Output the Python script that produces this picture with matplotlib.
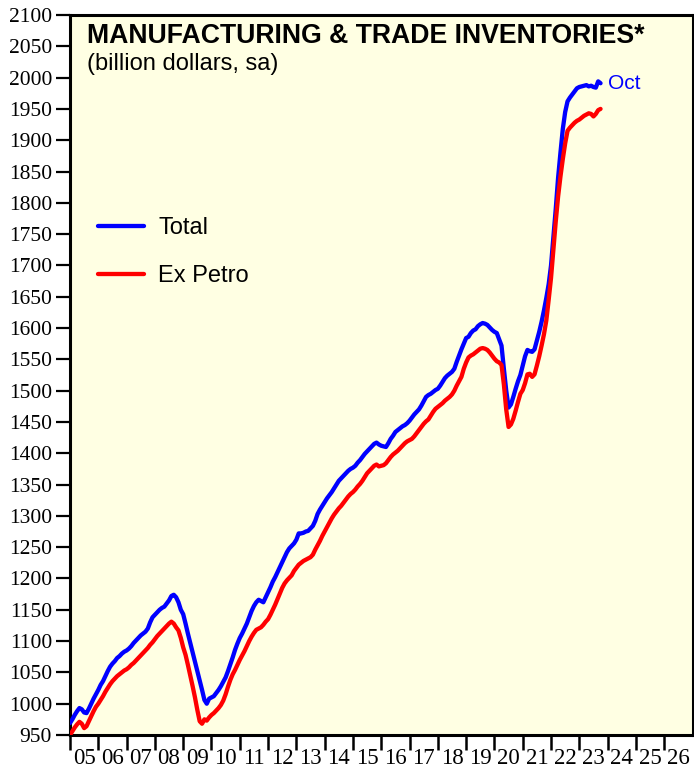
import numpy as np
import matplotlib
matplotlib.use("Agg")
import matplotlib.pyplot as plt

# ---------------- data (monthly, Jan 2005 - Oct 2023) ----------------
start_year = 2005
total = [
    969, 975, 982, 988, 993, 991, 986, 985, 992, 1000, 1008, 1015,
    1022, 1030, 1036, 1044, 1052, 1059, 1064, 1068, 1073, 1076, 1080, 1083,
    1085, 1088, 1092, 1097, 1101, 1105, 1109, 1112, 1115, 1120, 1130, 1138,
    1142, 1146, 1150, 1153, 1155, 1160, 1165, 1172, 1174, 1170, 1162, 1150,
    1143, 1128, 1112, 1097, 1082, 1067, 1052, 1037, 1022, 1006, 1000, 1008,
    1010, 1012, 1017, 1022, 1028, 1035, 1042, 1052, 1063, 1074, 1086, 1096,
    1105, 1112, 1120, 1128, 1138, 1148, 1156, 1162, 1166, 1164, 1162, 1170,
    1178, 1186, 1195, 1202, 1210, 1218, 1226, 1234, 1242, 1248, 1252, 1256,
    1262, 1272, 1272, 1273, 1275, 1276, 1280, 1284, 1292, 1303, 1310, 1316,
    1322, 1328, 1333, 1338, 1344, 1350, 1356, 1360, 1364, 1368, 1372, 1375,
    1377, 1380, 1385, 1389, 1394, 1399, 1403, 1407, 1411, 1415, 1417, 1414,
    1412, 1411, 1410, 1416, 1423, 1428, 1434, 1437, 1440, 1443, 1445, 1448,
    1452, 1457, 1462, 1466, 1470, 1476, 1483, 1490, 1493, 1495, 1498, 1501,
    1503, 1508, 1514, 1520, 1524, 1527, 1530, 1535, 1546, 1556, 1566, 1575,
    1584, 1586, 1592, 1596, 1598, 1603, 1606, 1608, 1607, 1605, 1601, 1597,
    1594, 1592, 1582, 1572, 1535, 1500, 1473, 1478, 1490, 1503, 1515, 1525,
    1540, 1555, 1565, 1563, 1562, 1566, 1580, 1594, 1610, 1628, 1648, 1670,
    1700, 1745, 1790, 1840, 1880, 1918, 1945, 1962, 1968, 1973, 1978, 1983,
    1985, 1986, 1987, 1988, 1986, 1987, 1985, 1984, 1994, 1991,
]
ex_petro = [
    950, 956, 962, 967, 971, 968, 961, 964, 972, 980, 988, 995,
    1000, 1006, 1012, 1019, 1025, 1031, 1036, 1040, 1044, 1047, 1050, 1053,
    1055, 1058, 1062, 1065, 1069, 1073, 1077, 1081, 1085, 1089, 1094, 1098,
    1103, 1108, 1112, 1116, 1120, 1124, 1128, 1131, 1128, 1122, 1117, 1105,
    1090, 1078, 1062, 1045, 1028, 1010, 990, 972, 968, 975, 973, 978,
    982, 985, 989, 993, 998, 1005, 1015, 1027, 1038, 1047, 1054, 1062,
    1070, 1077, 1084, 1092, 1100, 1107, 1113, 1118, 1120, 1122, 1126, 1131,
    1135, 1142, 1150, 1158, 1167, 1176, 1185, 1192, 1197, 1201, 1205, 1212,
    1217, 1222, 1225, 1228, 1230, 1232, 1234, 1238, 1246, 1253, 1260, 1268,
    1275, 1282, 1289, 1296, 1302, 1307, 1312, 1316, 1321, 1326, 1331, 1335,
    1338, 1342, 1347, 1351, 1356, 1362, 1368, 1372, 1376, 1380, 1382, 1379,
    1380, 1381, 1384, 1389, 1394, 1398, 1401, 1404, 1408, 1412, 1416, 1419,
    1421, 1423, 1427, 1432, 1437, 1442, 1447, 1451, 1454, 1460, 1466, 1471,
    1474, 1477, 1480, 1484, 1487, 1490, 1494, 1500, 1508, 1515, 1522, 1535,
    1545, 1553, 1556, 1558, 1561, 1564, 1567, 1568, 1567, 1565, 1561, 1556,
    1551, 1547, 1545, 1541, 1510, 1470, 1442, 1446, 1455, 1468, 1482, 1495,
    1501, 1512, 1526, 1527, 1522, 1526, 1540, 1555, 1572, 1590, 1612, 1645,
    1680, 1725, 1770, 1810, 1842, 1870, 1895, 1915, 1920, 1924, 1928, 1931,
    1933, 1936, 1939, 1941, 1943, 1942, 1938, 1942, 1948, 1950,
]
year_labels = ["05", "06", "07", "08", "09", "10", "11", "12", "13", "14", "15",
               "16", "17", "18", "19", "20", "21", "22", "23", "24", "25", "26"]
y_ticks = list(range(950, 2101, 50))
series_names = ["Total", "Ex Petro"]
last_label = "Oct"
title = "MANUFACTURING & TRADE INVENTORIES*"
subtitle = "(billion dollars, sa)"

# ---------------- figure ----------------
W, H = 694, 769
fig = plt.figure(figsize=(W / 100, H / 100), dpi=100)
fig.patch.set_facecolor("white")

L, R, T, B = 70, 692.5, 15, 735
ax = fig.add_axes([L / W, 1 - B / H, (R - L) / W, (B - T) / H])
ax.set_facecolor("#FFFFE3")

x = start_year + np.arange(len(total)) / 12.0
ax.plot(x, total, color="#0000FF", lw=3.1, solid_capstyle="round",
        solid_joinstyle="round", label=series_names[0], zorder=3)
ax.plot(x, ex_petro, color="#FF0000", lw=3.1, solid_capstyle="round",
        solid_joinstyle="round", label=series_names[1], zorder=3)

ax.set_xlim(2005, 2027)
ax.set_ylim(950, 2100)

serif = ["Liberation Serif", "DejaVu Serif"]
sans = ["Liberation Sans", "DejaVu Sans"]

ax.set_yticks(y_ticks)
ax.set_yticklabels([str(v) for v in y_ticks], fontfamily=serif, fontsize=15.5)
ax.tick_params(axis="y", direction="out", length=10, width=1.6, pad=3,
               colors="black")

years = np.arange(2005, 2027)
ax.set_xticks(years)
ax.set_xticklabels([""] * len(years))
ax.set_xticks(years + 0.5, minor=True)
ax.set_xticklabels(year_labels, minor=True, fontfamily=serif, fontsize=16.5)
ax.tick_params(axis="x", which="major", direction="out", length=11, width=1.8)
ax.tick_params(axis="x", which="minor", length=0, pad=9.5)
for lab in ax.get_xticklabels(minor=True):
    lab.set_horizontalalignment("center")

for s in ax.spines.values():
    s.set_linewidth(2.2)
    s.set_color("black")


def fx(px):
    return px / W


def fy(py):
    return 1 - py / H


fig.text(fx(87), fy(43), title, fontfamily=sans, fontweight="bold",
         fontsize=19.2, va="baseline", ha="left")
fig.text(fx(87), fy(70), subtitle, fontfamily=sans, fontsize=17,
         va="baseline", ha="left")

# legend
leg = ax.legend(loc="upper left", bbox_to_anchor=(fx(98), fy(217)),
                bbox_transform=fig.transFigure, frameon=False,
                prop={"family": sans, "size": 17}, handlelength=1.95,
                handletextpad=0.6, labelspacing=1.1, borderpad=0,
                borderaxespad=0)

# last-point label
ax.text(x[-1] + 0.25, total[-1], last_label, color="#0000FF",
        fontfamily=sans, fontsize=15, va="center", ha="left")

fig.savefig("out.png", dpi=100)
